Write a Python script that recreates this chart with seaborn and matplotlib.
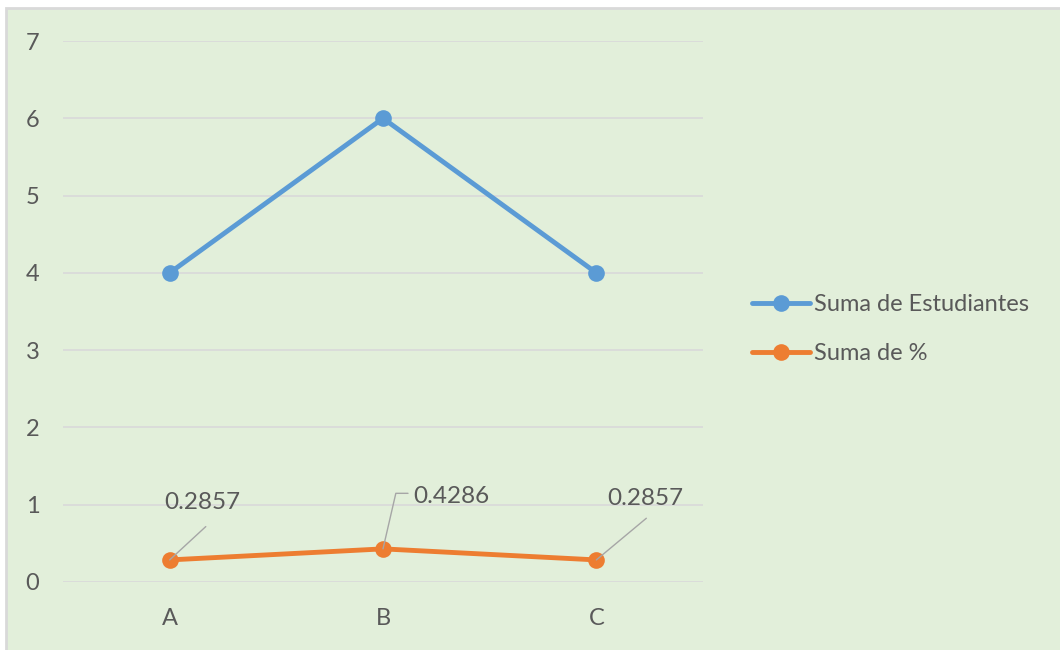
import matplotlib
matplotlib.use("Agg")
import matplotlib.pyplot as plt
from matplotlib.patches import Rectangle
import pandas as pd
import seaborn as sns

# Data
categories = ["A", "B", "C"]
estudiantes = [4, 6, 4]
porcentaje = [0.2857, 0.4286, 0.2857]
series_names = ["Suma de Estudiantes", "Suma de %"]
y_ticks = [0, 1, 2, 3, 4, 5, 6, 7]

df = pd.DataFrame({
    "categoria": categories * 2,
    "valor": estudiantes + porcentaje,
    "serie": [series_names[0]] * 3 + [series_names[1]] * 3,
})

BG = "#E2EFDA"
GRID = "#D9D9D9"
TXT = "#595959"
palette = {series_names[0]: "#5B9BD5", series_names[1]: "#ED7D31"}

sns.set_theme(style="white")
plt.rcParams["font.family"] = ["Lato", "DejaVu Sans"]

W, H = 1060, 650
fig = plt.figure(figsize=(W / 100, H / 100), dpi=100, facecolor="white")

# Chart-area background with thin border
fig.patches.append(Rectangle((6 / W, -0.1), 1.2, 1 - 8 / H + 0.1,
                             transform=fig.transFigure, facecolor=BG,
                             edgecolor=GRID, linewidth=2, zorder=-5))

ax = fig.add_axes([63 / W, 68 / H, (703 - 63) / W, (582 - 41) / H])
ax.set_facecolor("none")
ax.set_zorder(2)

sns.lineplot(data=df, x="categoria", y="valor", hue="serie", palette=palette,
             marker="o", markersize=12, markeredgewidth=0, linewidth=3.5,
             ax=ax, zorder=3)

ax.set_xlim(-0.5, 2.5)
ax.set_ylim(0, 7)
ax.set_yticks(y_ticks)
ax.grid(axis="y", color=GRID, linewidth=1.2)
ax.grid(axis="x", visible=False)
for s in ax.spines.values():
    s.set_visible(False)
ax.set_xlabel("")
ax.set_ylabel("")
ax.tick_params(axis="y", length=0, pad=17, labelsize=17, labelcolor=TXT)
ax.tick_params(axis="x", length=0, pad=19, labelsize=17, labelcolor=TXT)

# Data labels with leader lines (offsets in points)
LEAD = "#A6A6A6"
FS = 17.5
for i, (cat, v) in enumerate(zip(categories, porcentaje)):
    txt = f"{v:.4f}"
    if i == 0:
        ax.annotate(txt, xy=(i, v), xytext=(-4, 41), textcoords="offset points",
                    ha="left", va="center", fontsize=FS, color=TXT)
        ax.annotate("", xy=(i, v), xytext=(26, 24), textcoords="offset points",
                    arrowprops=dict(arrowstyle="-", color=LEAD, lw=1,
                                    shrinkA=0, shrinkB=0))
    elif i == 1:
        ax.annotate(txt, xy=(i, v), xytext=(22, 38), textcoords="offset points",
                    ha="left", va="center", fontsize=FS, color=TXT)
        ax.annotate("", xy=(i, v), xytext=(18, 40), textcoords="offset points",
                    arrowprops=dict(arrowstyle="-", color=LEAD, lw=1,
                                    shrinkA=0, shrinkB=0,
                                    connectionstyle="angle,angleA=0,angleB=77,rad=0"))
    else:
        ax.annotate(txt, xy=(i, v), xytext=(8, 44), textcoords="offset points",
                    ha="left", va="center", fontsize=FS, color=TXT)
        ax.annotate("", xy=(i, v), xytext=(36, 30), textcoords="offset points",
                    arrowprops=dict(arrowstyle="-", color=LEAD, lw=1,
                                    shrinkA=0, shrinkB=0))

handles, labels = ax.get_legend_handles_labels()
ax.legend(handles, labels, loc="center left",
          bbox_to_anchor=(743 / W, (H - 329) / H),
          bbox_transform=fig.transFigure, frameon=False, fontsize=17,
          handlelength=2.45, handletextpad=0.15, labelspacing=1.17,
          labelcolor=TXT, borderaxespad=0)

fig.savefig("out.png", dpi=100, facecolor="white")
